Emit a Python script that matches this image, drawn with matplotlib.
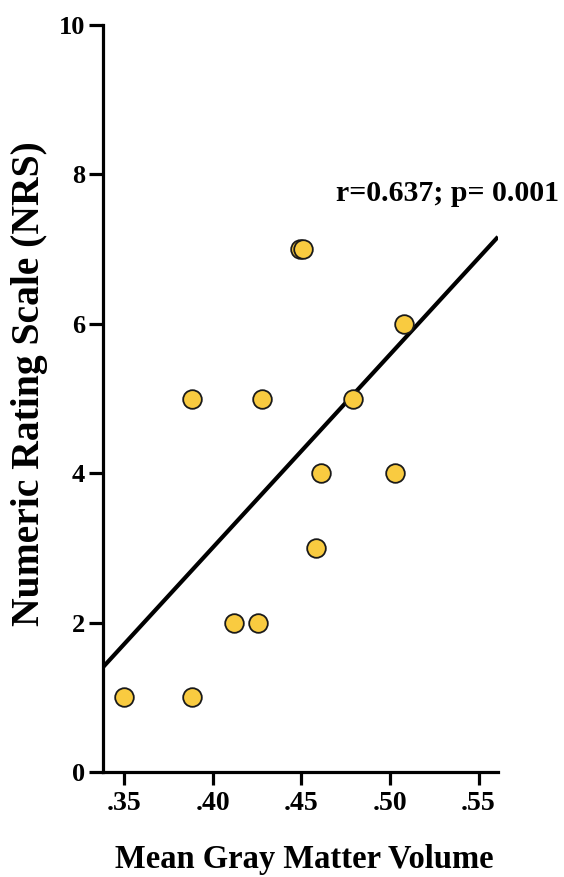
import numpy as np
import matplotlib
matplotlib.use("Agg")
import matplotlib.pyplot as plt

plt.rcParams['font.family'] = ['Liberation Serif', 'DejaVu Serif']
plt.rcParams['font.weight'] = 'bold'

gray_matter = [0.350, 0.388, 0.388, 0.412, 0.4256, 0.428, 0.449, 0.451, 0.458, 0.461, 0.479, 0.503, 0.508]
nrs = [1, 1, 5, 2, 2, 5, 7, 7, 3, 4, 5, 4, 6]
x_ticks = [0.35, 0.40, 0.45, 0.50, 0.55]
x_ticklabels = ['.35', '.40', '.45', '.50', '.55']
y_ticks = [0, 2, 4, 6, 8, 10]
annotation = 'r=0.637; p= 0.001'

fig = plt.figure(figsize=(5.64, 8.77), dpi=100)
ax = fig.add_axes([0.1826, 0.1197, 0.883 - 0.1826, 0.9715 - 0.1197])
xlim = (0.338, 0.561)
ax.set_xlim(*xlim)
ax.set_ylim(0, 10)

slope, intercept = np.polyfit(gray_matter, nrs, 1)
xl = np.array(xlim)
ax.plot(xl, slope * xl + intercept, color='black', lw=3.0, zorder=2, solid_capstyle='butt')

ax.scatter(gray_matter, nrs, s=180, color='#F9CB40', edgecolors='#1a1a1a', linewidths=1.3, zorder=3, clip_on=False)

for s in ['top', 'right']:
    ax.spines[s].set_visible(False)
for s in ['left', 'bottom']:
    ax.spines[s].set_linewidth(2.3)
    ax.spines[s].set_color('black')

ax.set_xticks(x_ticks)
ax.set_xticklabels(x_ticklabels)
ax.set_yticks(y_ticks)
ax.tick_params(axis='y', direction='out', length=10, width=2.3, labelsize=19, pad=3)
ax.tick_params(axis='x', direction='out', length=9, width=2.3, labelsize=20, pad=5)
for lab in ax.get_xticklabels() + ax.get_yticklabels():
    lab.set_fontweight('bold')

ax.set_xlabel('Mean Gray Matter Volume', fontsize=23.5, fontweight='bold')
ax.set_ylabel('Numeric Rating Scale (NRS)', fontsize=28.5, fontweight='bold')
ax.yaxis.set_label_coords(-0.14, 0.52)
ax.xaxis.set_label_coords(0.51, -0.097)

ax.text(0.992, 0.779, annotation, transform=fig.transFigure, ha='right', va='center',
        fontsize=21.5, fontweight='bold')

fig.savefig('out.png', dpi=100)
